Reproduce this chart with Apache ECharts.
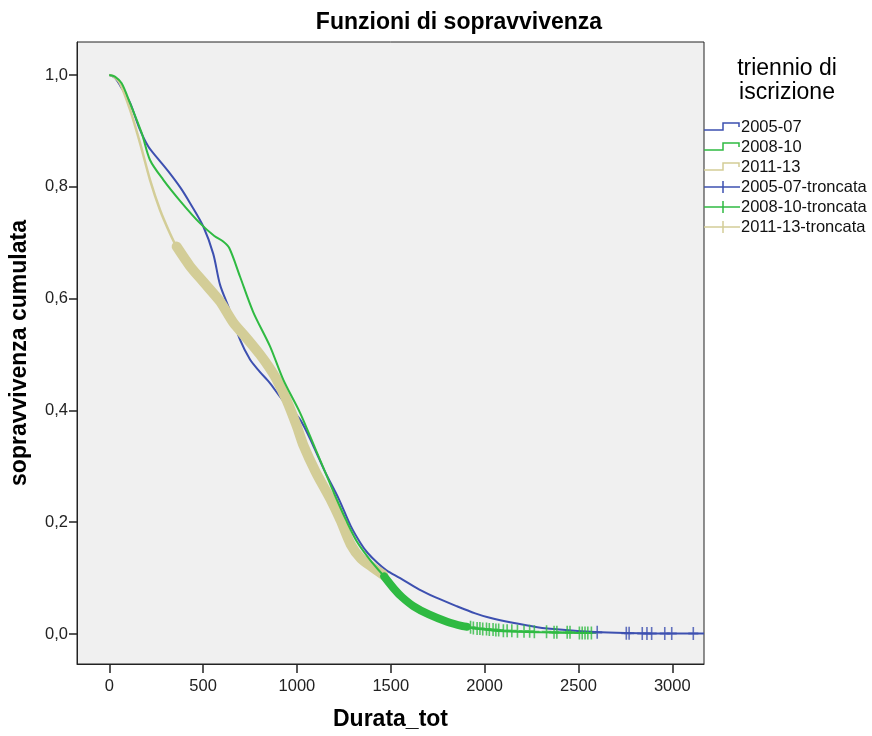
<!DOCTYPE html>
<html>
<head>
<meta charset="utf-8">
<script src="https://cdn.jsdelivr.net/npm/echarts@6/dist/echarts.min.js"></script>
<style>html,body{margin:0;padding:0;background:#fff}#c{width:872px;height:736px}</style>
</head>
<body>
<div id="c"></div>
<script>
// ---- data (durata, sopravvivenza cumulata) ----
const xTicks = [0, 500, 1000, 1500, 2000, 2500, 3000];
const yTicks = [0, 0.2, 0.4, 0.6, 0.8, 1.0];

const curve2005 = [[0,1.0],[30,0.995],[60,0.98],[111,0.95],[160,0.905],[208,0.872],[260,0.85],[323,0.824],[380,0.798],[430,0.771],[501,0.729],[554,0.68],[590,0.625],[634,0.586],[696,0.527],[750,0.491],[800,0.47],[856,0.449],[920,0.42],[1016,0.384],[1088,0.336],[1150,0.29],[1224,0.241],[1287,0.193],[1340,0.162],[1377,0.145],[1430,0.127],[1477,0.114],[1550,0.1],[1650,0.08],[1739,0.0655],[1850,0.05],[1950,0.037],[2028,0.029],[2150,0.02],[2281,0.0123],[2400,0.008],[2588,0.0037],[2750,0.002],[3000,0.001],[3169,0.001]];

const curve2008 = [[0,1.0],[30,0.997],[66,0.985],[110,0.95],[173,0.896],[217,0.848],[288,0.8125],[377,0.775],[483,0.735],[560,0.712],[607,0.702],[640,0.69],[696,0.64],[767,0.576],[856,0.515],[927,0.455],[1016,0.396],[1096,0.333],[1150,0.29],[1200,0.25],[1260,0.205],[1320,0.165],[1400,0.128],[1460,0.105],[1520,0.08],[1560,0.066],[1620,0.05],[1703,0.035],[1800,0.022],[1883,0.014],[1950,0.01],[2100,0.005],[2300,0.003],[2569,0.002]];

const curve2011 = [[0,1.0],[20,0.998],[57,0.985],[111,0.9375],[164,0.878],[217,0.8125],[270,0.759],[323,0.717],[359,0.693],[430,0.658],[501,0.630],[590,0.595],[661,0.557],[730,0.53],[803,0.500],[850,0.478],[892,0.455],[945,0.418],[999,0.372],[1034,0.338],[1100,0.29],[1179,0.241],[1233,0.203],[1287,0.160],[1341,0.135],[1400,0.12],[1460,0.106]];

// censored observations: dense runs (drawn as band) and isolated marks
const cens2011Band = [[359,0.693],[430,0.658],[501,0.630],[590,0.595],[661,0.557],[730,0.53],[803,0.500],[850,0.478],[892,0.455],[945,0.418],[999,0.372],[1034,0.338],[1100,0.29],[1179,0.241],[1233,0.203],[1287,0.160],[1341,0.135],[1400,0.12],[1460,0.106]];
const cens2008Band = [[1465,0.103],[1520,0.08],[1560,0.066],[1620,0.05],[1703,0.035],[1800,0.022],[1883,0.014],[1905,0.013]];
const cens2008Marks = [[1925,0.012],[1940,0.011],[1960,0.01],[1975,0.01],[1990,0.009],[2010,0.009],[2025,0.008],[2045,0.008],[2060,0.007],[2075,0.007],[2100,0.006],[2120,0.006],[2145,0.006],[2175,0.005],[2210,0.005],[2240,0.005],[2265,0.004],[2330,0.004],[2370,0.003],[2385,0.003],[2440,0.003],[2455,0.003],[2505,0.002],[2520,0.002],[2535,0.002],[2550,0.002],[2569,0.002]];
const cens2005Marks = [[2600,0.003],[2755,0.0015],[2770,0.0015],[2840,0.001],[2865,0.001],[2890,0.001],[2960,0.001],[2997,0.001],[3112,0.001]];

const legendNames = ['2005-07','2008-10','2011-13','2005-07-troncata','2008-10-troncata','2011-13-troncata'];

// ---- styles ----
const BLUE = '#3d50b0', GREEN = '#2fba42', TAN = '#d3cd97';
const FONT = '"Liberation Sans", Arial, sans-serif';
const PLUS = 'path://M4.2 0H5.8V4.2H10V5.8H5.8V10H4.2V5.8H0V4.2H4.2Z';

const chart = echarts.init(document.getElementById('c'), null, {renderer:'canvas'});

const legendColors = [BLUE, GREEN, TAN, BLUE, GREEN, TAN];
const graphics = [
  {type:'text', x:459, y:23, style:{text:'Funzioni di sopravvivenza', font:'bold 23px '+FONT, fill:'#000', align:'center', verticalAlign:'middle'}},
  {type:'text', x:787, y:69, style:{text:'triennio di', font:'23px '+FONT, fill:'#000', align:'center', verticalAlign:'middle'}},
  {type:'text', x:787, y:93, style:{text:'iscrizione', font:'23px '+FONT, fill:'#000', align:'center', verticalAlign:'middle'}}
];
legendNames.forEach((n, i) => {
  const cy = 127 + i * 20;
  const col = legendColors[i];
  if (i < 3) {
    graphics.push({type:'polyline', shape:{points:[[704,cy+3],[723,cy+3],[723,cy-4],[739,cy-4],[739,cy]]}, style:{stroke:col, lineWidth:1.5, fill:null}});
  } else {
    graphics.push({type:'line', shape:{x1:704,y1:cy,x2:740,y2:cy}, style:{stroke:col, lineWidth:1.5}});
    graphics.push({type:'line', shape:{x1:723,y1:cy-6,x2:723,y2:cy+6}, style:{stroke:col, lineWidth:1.5}});
  }
  graphics.push({type:'text', x:741, y:cy, style:{text:n, font:'16.5px '+FONT, fill:'#111', align:'left', verticalAlign:'middle'}});
});

const option = {
  animation: false,
  backgroundColor: '#ffffff',
  textStyle: {fontFamily: FONT},
  grid: {left:77, top:42, width:627, height:623, show:true, backgroundColor:'#f0f0f0', borderColor:'#222', borderWidth:1, containLabel:false},
  xAxis: {
    type:'value', min:-172, max:3169,
    name:'Durata_tot', nameLocation:'middle', nameGap:44,
    nameTextStyle:{fontSize:23, fontWeight:'bold', color:'#000', fontFamily:FONT},
    axisLine:{show:true, onZero:false, lineStyle:{color:'#222', width:1}},
    axisTick:{show:true, inside:false, length:9, lineStyle:{color:'#222', width:1.5}, customValues:xTicks},
    axisLabel:{fontSize:16.5, color:'#222', margin:14, customValues:xTicks, formatter:v=>String(v), fontFamily:FONT},
    splitLine:{show:false}
  },
  yAxis: {
    type:'value', min:-0.0536, max:1.059,
    name:'sopravvivenza cumulata', nameLocation:'middle', nameGap:46, nameRotate:90,
    nameTextStyle:{fontSize:23, fontWeight:'bold', color:'#000', fontFamily:FONT},
    axisLine:{show:true, onZero:false, lineStyle:{color:'#222', width:1}},
    axisTick:{show:true, inside:false, length:8, lineStyle:{color:'#222', width:1.5}, customValues:yTicks},
    axisLabel:{fontSize:16.5, color:'#222', margin:9, customValues:yTicks, formatter:v=>v.toFixed(1).replace('.', ','), fontFamily:FONT},
    splitLine:{show:false}
  },
  graphic: graphics,
  series: [
    {name:'2005-07', type:'line', data:curve2005, showSymbol:false, smooth:0.3, z:2, lineStyle:{color:BLUE, width:2}},
    {name:'2011-13', type:'line', data:curve2011, showSymbol:false, smooth:0.25, z:2, lineStyle:{color:TAN, width:2.5}},
    {name:'2011-13-troncata', type:'line', data:cens2011Band, showSymbol:false, smooth:0.25, z:3, lineStyle:{color:TAN, width:10, cap:'round', join:'round'}},
    {name:'2008-10', type:'line', data:curve2008, showSymbol:false, smooth:0.3, z:4, lineStyle:{color:GREEN, width:2}},
    {name:'2008-10-troncata', type:'line', data:cens2008Band, showSymbol:false, smooth:0.3, z:5, lineStyle:{color:GREEN, width:8, cap:'round', join:'round'}},
    {name:'2008-10-troncata', type:'scatter', data:cens2008Marks, symbol:PLUS, symbolSize:[10,13], z:5, itemStyle:{color:GREEN}},
    {name:'2005-07-troncata', type:'scatter', data:cens2005Marks, symbol:PLUS, symbolSize:[10,13], z:6, itemStyle:{color:BLUE}}
  ]
};
chart.setOption(option);
</script>
</body>
</html>
